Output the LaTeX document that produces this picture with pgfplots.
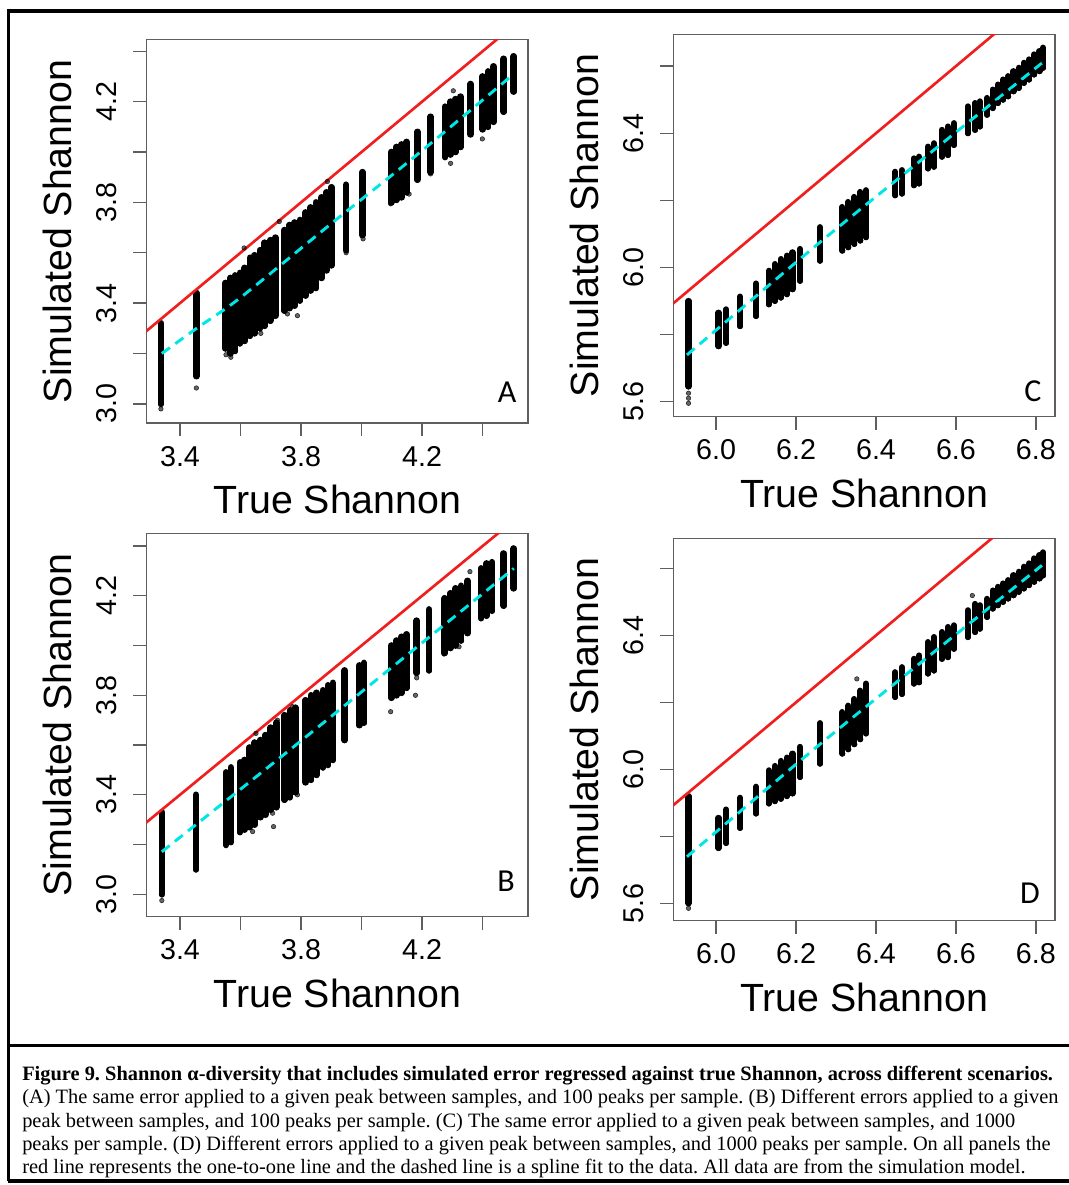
\documentclass[border=0pt]{standalone}
\usepackage{fontspec}
\setmainfont{Liberation Sans}
\newfontfamily\capfont{Liberation Serif}
\newfontfamily\letterfont{Carlito}
\usepackage{pgfplots}
\usepackage{pgfplotstable}
\pgfplotsset{compat=1.18}

\definecolor{boxgray}{RGB}{95,95,95}
\definecolor{fitcyan}{RGB}{0,230,230}
\definecolor{onered}{RGB}{240,30,30}

\pgfplotsset{
  shannon/.style={
    scale only axis, width=286pt, height=287.5pt, anchor=south west,
    axis line style={boxgray, line width=1pt},
    tick style={boxgray, line width=1pt},
    tick align=outside, major tick length=10pt, tick pos=left,
    tick label style={font=\fontsize{21.5}{24}\selectfont},
    xticklabel style={anchor=base, yshift=-22.3pt},
    yticklabel style={xshift=-12.6pt, rotate=90, anchor=base},
    every axis x label/.style={at={(axis description cs:0.5,0)}, yshift=-67.9pt, anchor=base,
      font=\fontsize{29.5}{32}\selectfont},
    every axis y label/.style={at={(axis description cs:0,0.5)}, xshift=-56.25pt, rotate=90, anchor=base,
      font=\fontsize{29.5}{32}\selectfont},
    xlabel={True Shannon}, ylabel={Simulated Shannon},
  },
  lowaxes/.style={
    xmin=3.29, xmax=4.55,
    xtick={3.4,3.6,3.8,4.0,4.2,4.4}, xticklabels={3.4,,3.8,,4.2,},
    ytick={3.0,3.2,3.4,3.6,3.8,4.0,4.2,4.4}, yticklabels={3.0,,3.4,,3.8,,4.2,},
  },
  highaxes/.style={
    xmin=5.893, xmax=6.848,
    xtick={6.0,6.2,6.4,6.6,6.8}, xticklabels={6.0,6.2,6.4,6.6,6.8},
    ytick={5.6,5.8,6.0,6.2,6.4,6.6}, yticklabels={5.6,,6.0,,6.4,},
  },
  cols/.style={only marks, mark=none, forget plot,
    error bars/.cd, y dir=plus, y explicit, error mark=none,
    error bar style={black, line width=#1, line cap=round}},
  pts/.style={only marks, mark=*, mark size=1.7pt, black, fill opacity=0.6, draw opacity=0.8, forget plot},
  oneline/.style={onered, line width=2pt, forget plot},
  fitline/.style={fitcyan, line width=2.2pt, dash pattern=on 7.5pt off 5pt, forget plot},
}
\tikzset{letter/.style={font=\letterfont\fontsize{24}{24}\selectfont, anchor=base east, inner sep=0pt}}

% columns of points: true value, lowest and highest simulated value
\pgfplotstableread{
x lo hi
3.337 3.00 3.32
3.454 3.11 3.44
3.550 3.22 3.48
3.566 3.20 3.50
3.582 3.21 3.51
3.598 3.24 3.52
3.614 3.25 3.54
3.631 3.27 3.58
3.647 3.28 3.59
3.664 3.30 3.61
3.680 3.31 3.64
3.698 3.33 3.65
3.715 3.35 3.66
3.745 3.37 3.69
3.762 3.38 3.71
3.779 3.39 3.72
3.796 3.41 3.73
3.815 3.43 3.76
3.832 3.45 3.78
3.849 3.46 3.80
3.868 3.50 3.82
3.884 3.53 3.84
3.900 3.55 3.86
3.949 3.61 3.87
4.003 3.67 3.92
4.098 3.80 4.00
4.115 3.81 4.02
4.132 3.82 4.03
4.149 3.84 4.04
4.184 3.89 4.08
4.228 3.92 4.14
4.276 3.98 4.18
4.293 3.99 4.20
4.310 4.00 4.21
4.327 4.02 4.22
4.360 4.07 4.27
4.400 4.09 4.30
4.418 4.10 4.32
4.436 4.12 4.34
4.470 4.16 4.37
4.503 4.24 4.38
}\colsA
\pgfplotstableread{
x y
3.454 3.063
3.337 2.980
3.568 3.185
3.552 3.195
3.667 3.280
3.711 3.357
3.755 3.357
3.788 3.350
3.821 3.450
3.849 3.500
3.887 3.883
3.612 3.619
3.728 3.724
4.096 3.794
4.157 3.833
4.294 3.955
4.303 4.243
4.399 4.052
4.228 3.913
4.005 3.655
3.949 3.600
}\ptsA
\pgfplotstableread{
x y
3.340 3.20
3.455 3.30
3.601 3.423
3.898 3.714
4.173 3.979
4.503 4.310
}\fitA

\pgfplotstableread{
x lo hi
3.340 3.00 3.33
3.453 3.10 3.40
3.552 3.20 3.49
3.568 3.21 3.51
3.598 3.25 3.53
3.613 3.26 3.54
3.630 3.27 3.59
3.647 3.28 3.61
3.665 3.31 3.62
3.682 3.32 3.64
3.700 3.34 3.67
3.718 3.35 3.69
3.745 3.38 3.72
3.763 3.39 3.74
3.781 3.41 3.75
3.815 3.45 3.78
3.833 3.46 3.80
3.851 3.48 3.81
3.872 3.51 3.82
3.889 3.52 3.84
3.905 3.54 3.85
3.944 3.62 3.90
3.992 3.68 3.92
4.008 3.69 3.93
4.098 3.79 4.00
4.115 3.80 4.02
4.132 3.81 4.035
4.149 3.83 4.045
4.182 3.89 4.10
4.223 3.90 4.145
4.275 3.97 4.19
4.293 3.99 4.21
4.311 4.00 4.23
4.329 4.02 4.24
4.350 4.05 4.26
4.395 4.11 4.31
4.413 4.12 4.33
4.431 4.14 4.335
4.470 4.16 4.37
4.503 4.23 4.39
}\colsB
\pgfplotstableread{
x y
3.340 2.975
3.640 3.252
3.709 3.272
3.753 3.386
3.788 3.400
3.706 3.326
3.772 3.754
3.722 3.700
3.651 3.647
3.552 3.195
4.096 3.734
4.178 3.800
4.149 3.835
4.272 3.966
4.322 3.995
4.358 4.297
4.182 3.870
}\ptsB
\pgfplotstableread{
x y
3.340 3.171
3.755 3.573
4.184 3.995
4.503 4.310
}\fitB

\pgfplotstableread{
x lo hi
5.931 5.645 5.900
6.006 5.765 5.865
6.025 5.775 5.875
6.060 5.825 5.913
6.100 5.855 5.952
6.132 5.890 5.990
6.147 5.900 6.010
6.162 5.910 6.025
6.177 5.920 6.035
6.191 5.935 6.045
6.210 5.960 6.055
6.260 6.020 6.120
6.316 6.050 6.180
6.331 6.060 6.195
6.346 6.070 6.210
6.361 6.080 6.225
6.375 6.090 6.230
6.448 6.215 6.285
6.465 6.220 6.290
6.495 6.245 6.325
6.508 6.250 6.330
6.530 6.295 6.360
6.545 6.300 6.370
6.565 6.330 6.410
6.580 6.335 6.420
6.595 6.365 6.430
6.630 6.400 6.480
6.648 6.410 6.490
6.660 6.420 6.495
6.678 6.455 6.505
6.692 6.475 6.530
6.705 6.490 6.545
6.718 6.500 6.560
6.731 6.510 6.570
6.744 6.525 6.585
6.757 6.535 6.595
6.770 6.550 6.610
6.783 6.560 6.620
6.796 6.575 6.635
6.809 6.585 6.645
6.818 6.595 6.655
}\colsC
\pgfplotstableread{
x y
5.931 5.610
5.931 5.595
5.931 5.625
}\ptsC

\pgfplotstableread{
x lo hi
5.931 5.600 5.920
6.006 5.765 5.855
6.025 5.780 5.880
6.060 5.825 5.915
6.100 5.868 5.948
6.132 5.898 5.997
6.147 5.905 6.010
6.162 5.912 6.025
6.177 5.920 6.035
6.191 5.928 6.047
6.210 5.977 6.067
6.260 6.017 6.138
6.316 6.047 6.171
6.331 6.060 6.190
6.346 6.075 6.210
6.361 6.090 6.235
6.375 6.107 6.256
6.448 6.216 6.290
6.465 6.225 6.305
6.495 6.256 6.330
6.508 6.260 6.340
6.530 6.286 6.380
6.545 6.295 6.395
6.565 6.330 6.410
6.580 6.335 6.425
6.595 6.360 6.430
6.630 6.395 6.475
6.648 6.410 6.494
6.660 6.420 6.490
6.678 6.455 6.509
6.692 6.480 6.534
6.705 6.490 6.545
6.718 6.500 6.555
6.731 6.510 6.565
6.744 6.520 6.580
6.757 6.530 6.590
6.770 6.540 6.605
6.783 6.550 6.615
6.796 6.560 6.630
6.809 6.570 6.640
6.818 6.579 6.648
}\colsD
\pgfplotstableread{
x y
6.641 6.519
6.352 6.270
5.931 5.585
}\ptsD

\pgfplotstableread{
x y
5.927 5.739
6.168 5.983
6.344 6.157
6.815 6.609
}\fitCD

\begin{document}
\frenchspacing
\begin{tikzpicture}
\useasboundingbox (0pt,0pt) rectangle (801pt,-888.75pt);

% A
\begin{axis}[shannon, lowaxes, at={(110.03pt,-317.25pt)}, ymin=2.924, ymax=4.446]
\addplot[cols=5pt] table[x=x, y=lo, y error expr=\thisrow{hi}-\thisrow{lo}] {\colsA};
\addplot[pts] table[x=x, y=y] {\ptsA};
\addplot[oneline] coordinates {(3.2,3.2) (4.6,4.6)};
\addplot[fitline, smooth] table[x=x, y=y] {\fitA};
\node[letter, xshift=-8.6pt, yshift=15.75pt] at (rel axis cs:1,0) {A};
\end{axis}

% B
\begin{axis}[shannon, lowaxes, at={(110.03pt,-687.5pt)}, ymin=2.91, ymax=4.451]
\addplot[cols=5pt] table[x=x, y=lo, y error expr=\thisrow{hi}-\thisrow{lo}] {\colsB};
\addplot[pts] table[x=x, y=y] {\ptsB};
\addplot[oneline] coordinates {(3.2,3.2) (4.6,4.6)};
\addplot[fitline, smooth] table[x=x, y=y] {\fitB};
\node[letter, xshift=-9.75pt, yshift=18.75pt] at (rel axis cs:1,0) {B};
\end{axis}

% C
\begin{axis}[shannon, highaxes, at={(505pt,-312.5pt)}, width=286.3pt, height=286.8pt, ymin=5.555, ymax=6.695]
\addplot[cols=4.6pt] table[x=x, y=lo, y error expr=\thisrow{hi}-\thisrow{lo}] {\colsC};
\addplot[pts] table[x=x, y=y] {\ptsC};
\addplot[oneline] coordinates {(5.8,5.8) (6.9,6.9)};
\addplot[fitline, smooth] table[x=x, y=y] {\fitCD};
\node[letter, xshift=-10pt, yshift=11.25pt] at (rel axis cs:1,0) {C};
\end{axis}

% D
\begin{axis}[shannon, highaxes, at={(505pt,-690.5pt)}, width=286.3pt, height=286.8pt, ymin=5.548, ymax=6.69]
\addplot[cols=4.6pt] table[x=x, y=lo, y error expr=\thisrow{hi}-\thisrow{lo}] {\colsD};
\addplot[pts] table[x=x, y=y] {\ptsD};
\addplot[oneline] coordinates {(5.8,5.8) (6.9,6.9)};
\addplot[fitline, smooth] table[x=x, y=y] {\fitCD};
\node[letter, xshift=-11.25pt, yshift=13pt] at (rel axis cs:1,0) {D};
\end{axis}

% frame and caption, in pixel units of the reference
\begin{scope}[x=0.75pt, y=-0.75pt]
\draw[line width=2.3pt] (8.3,1181) -- (8.3,11) -- (1075,11);
\draw[line width=2.8pt] (8.3,1045.5) -- (1075,1045.5);
\draw[line width=2.3pt] (8.3,1181) -- (1075,1181);
\node[anchor=north west, align=left, inner sep=0pt,
      font=\capfont\fontsize{15.3}{17.5}\selectfont] at (22,1066) {%
\textbf{Figure 9. Shannon α-diversity that includes simulated error regressed against true Shannon, across different scenarios.}\\
(A) The same error applied to a given peak between samples, and 100 peaks per sample. (B) Different errors applied to a given\\
peak between samples, and 100 peaks per sample. (C) The same error applied to a given peak between samples, and 1000\\
peaks per sample. (D) Different errors applied to a given peak between samples, and 1000 peaks per sample. On all panels the\\
red line represents the one-to-one line and the dashed line is a spline fit to the data. All data are from the simulation model.};
\end{scope}
\end{tikzpicture}
\end{document}
